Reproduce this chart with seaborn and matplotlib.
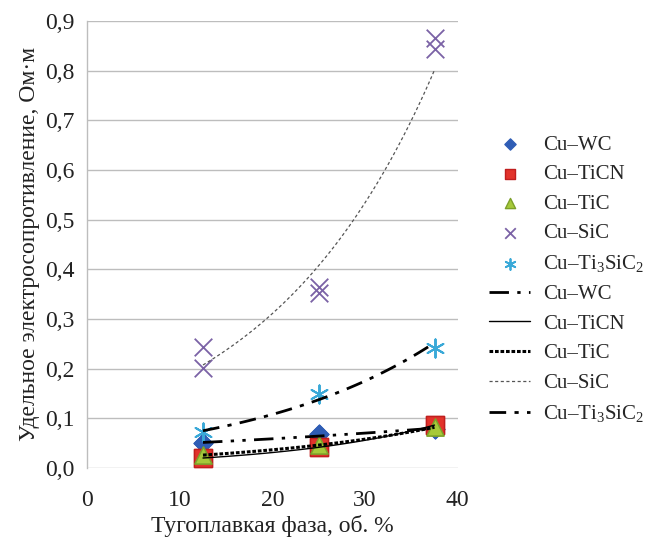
import numpy as np
import pandas as pd
import matplotlib
matplotlib.use("Agg")
import matplotlib.pyplot as plt
import matplotlib.ticker as mticker
import seaborn as sns

# refractory phase content, vol. %
PHASE = [12.5, 12.5, 25.0, 25.0, 37.5, 37.5]

# resistivity values (two samples per content)
WC = [0.050, 0.050, 0.068, 0.068, 0.078, 0.078]
TICN = [0.020, 0.020, 0.042, 0.042, 0.086, 0.086]
TIC = [0.026, 0.026, 0.046, 0.046, 0.082, 0.082]
SIC = [0.243, 0.201, 0.365, 0.352, 0.865, 0.843]
TI3SIC2 = [0.072, 0.072, 0.149, 0.149, 0.242, 0.242]

NAMES = ["Cu–WC", "Cu–TiCN", "Cu–TiC", "Cu–SiC", "Cu–Ti$_3$SiC$_2$"]
SERIES = [WC, TICN, TIC, SIC, TI3SIC2]

MARKERS = ["D", "s", "^", "x", (6, 2, 0)]
FACES = ["#2f5db5", "#e2332b", "#a6c93a", "#7b62a6", "#3aa9d8"]
EDGES = ["#2f5db5", "#c01e1e", "#7da02a", "#7b62a6", "#3aa9d8"]
SIZES = [90, 150, 150, 160, 170]

LINESTYLES = [(0, (7, 3, 1.2, 3, 1.2, 3)), "-", (0, (1.2, 0.6)),
              (0, (2.5, 2)), (0, (6, 3, 1.5, 3))]
LINEWIDTHS = [2.0, 1.0, 2.2, 0.9, 2.0]
LINECOLORS = ["black", "black", "black", "#555555", "black"]


def exp_trend(x, y):
    """Exponential trend line, like the spreadsheet one"""
    x = np.asarray(x)
    b, a = np.polyfit(x, np.log(y), 1)
    xs = np.linspace(min(x), max(x), 60)
    return pd.DataFrame({"x": xs, "y": np.exp(a + b * xs)})


def main():
    sns.set_theme(style="white")
    plt.rcParams["font.family"] = ["Liberation Serif", "DejaVu Serif"]
    plt.rcParams["mathtext.fontset"] = "custom"
    plt.rcParams["mathtext.rm"] = "Liberation Serif"
    plt.rcParams["mathtext.it"] = "Liberation Serif:italic"

    fig = plt.figure(figsize=(6.51, 5.48), dpi=100)
    ax = fig.add_axes([0.134, 0.146, 0.569, 0.816])

    for name, vals, m, fc, ec, s in zip(NAMES, SERIES, MARKERS, FACES, EDGES, SIZES):
        df = pd.DataFrame({"x": PHASE, "y": vals})
        if m == "x" or isinstance(m, tuple):
            sns.scatterplot(data=df, x="x", y="y", ax=ax, marker=m, s=s,
                            color=fc, linewidth=1.3, label=name, zorder=3)
        else:
            sns.scatterplot(data=df, x="x", y="y", ax=ax, marker=m, s=s,
                            color=fc, edgecolor=ec, linewidth=1.0,
                            label=name, zorder=3)

    for name, vals, ls, lw, lc in zip(NAMES, SERIES, LINESTYLES, LINEWIDTHS, LINECOLORS):
        tr = exp_trend(PHASE, vals)
        sns.lineplot(data=tr, x="x", y="y", ax=ax, color=lc, linewidth=lw,
                     linestyle=ls, label=name, zorder=4)

    ax.set_xlim(0, 40)
    ax.set_ylim(0, 0.9)
    ax.xaxis.set_major_locator(mticker.MultipleLocator(10))
    ax.yaxis.set_major_locator(mticker.MultipleLocator(0.1))
    ax.yaxis.set_major_formatter(mticker.FuncFormatter(
        lambda v, p: ("%.1f" % v).replace(".", ",")))
    ax.grid(axis="y", color="#bdbdbd", linewidth=1.0)
    ax.set_axisbelow(True)
    for side in ["top", "right", "bottom"]:
        ax.spines[side].set_visible(False)
    ax.spines["left"].set_color("#bdbdbd")
    ax.spines["left"].set_linewidth(1.0)
    ax.tick_params(axis="both", length=0, labelsize=17, colors="#222222")
    ax.tick_params(axis="x", pad=16)
    ax.tick_params(axis="y", pad=9)

    ax.set_xlabel("Тугоплавкая фаза, об. %", fontsize=17, color="#222222", labelpad=3)
    ax.set_ylabel("Удельное электросопротивление, Ом·м", fontsize=17,
                  color="#222222", labelpad=4)

    ax.legend(loc="center left", bbox_to_anchor=(0.738, 0.49),
              bbox_transform=fig.transFigure, frameon=False,
              fontsize=15, handlelength=2.0, labelspacing=0.48,
              handletextpad=0.6, borderaxespad=0.0, markerscale=0.6)

    fig.savefig("out.png", dpi=100)


if __name__ == "__main__":
    main()
